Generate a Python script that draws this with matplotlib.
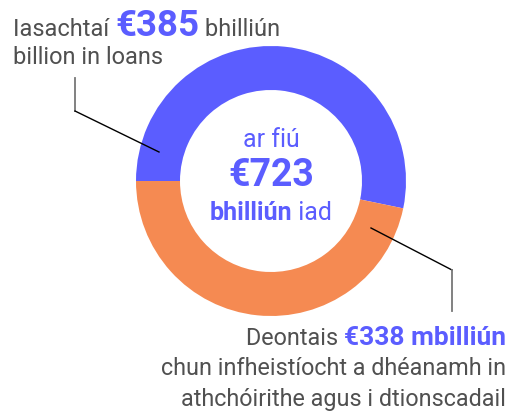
import matplotlib
matplotlib.use("Agg")
import matplotlib.pyplot as plt

# data
labels = ["Iasachtaí", "Deontais"]
values = [385, 338]
total = 723
colors = ["#5B5DFF", "#F58A52"]
gray = "#505050"

plt.rcParams['font.family'] = ['Roboto', 'DejaVu Sans']

W, H = 518, 414
fig = plt.figure(figsize=(W / 100, H / 100), dpi=100)
ax = fig.add_axes([0, 0, 1, 1])

# pixel y (top-down) -> data y
def py(y):
    return H - y

ax.pie(values, colors=colors, startangle=180, counterclock=False,
       center=(271, py(182)), radius=135,
       wedgeprops=dict(width=44, linewidth=0), frame=True)
ax.set_xlim(0, W)
ax.set_ylim(0, H)
ax.set_aspect('equal')
ax.axis('off')

renderer = fig.canvas.get_renderer()


def text_run(x, y, pieces, ha='left'):
    # pieces: list of (string, kwargs); y is baseline in pixels (top-down)
    arts = []
    for s, kw in pieces:
        t = ax.text(0, 0, s, va='baseline', ha='left', **kw)
        arts.append(t)
    widths = [t.get_window_extent(renderer).width for t in arts]
    tot = sum(widths)
    if ha == 'left':
        x0 = x
    elif ha == 'right':
        x0 = x - tot
    else:
        x0 = x - tot / 2
    for t, w in zip(arts, widths):
        t.set_position((x0, py(y)))
        x0 += w


reg = dict(color=gray, fontsize=17)
# top-left label
text_run(13, 36, [("Iasachtaí ", reg),
                  ("€385", dict(color=colors[0], fontsize=26.5, fontweight='bold')),
                  (" bhilliún", reg)])
text_run(13, 64, [("billion in loans", reg)])

# centre
text_run(271, 147, [("ar fiú", dict(color=colors[0], fontsize=18))], ha='center')
text_run(271, 186, [("€723", dict(color=colors[0], fontsize=27, fontweight='bold'))], ha='center')
text_run(271, 220, [("bhilliún", dict(color=colors[0], fontsize=18, fontweight='bold')),
                    (" iad", dict(color=colors[0], fontsize=18))], ha='center')

# bottom-right label
reg2 = dict(color=gray, fontsize=16.8)
text_run(506, 345, [("Deontais ", reg2),
                    ("€338 mbilliún", dict(color=colors[0], fontsize=19, fontweight='bold'))],
         ha='right')
text_run(506, 375, [("chun infheistíocht a dhéanamh in", reg2)], ha='right')
text_run(506, 406, [("athchóirithe agus i dtionscadail", reg2)], ha='right')

# leader lines
ax.plot([75, 75], [py(79), py(112)], color="#777777", lw=1.3)
ax.plot([75, 159], [py(112), py(153)], color="black", lw=1)
ax.plot([371, 452], [py(229), py(271)], color="black", lw=1)
ax.plot([452, 452], [py(271), py(312)], color="#777777", lw=1.3)

fig.savefig("out.png", dpi=100)
